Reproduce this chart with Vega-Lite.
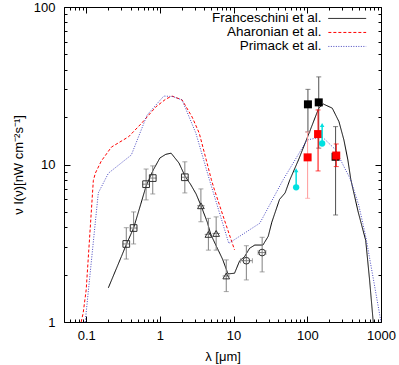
{
"$schema":"https://vega.github.io/schema/vega-lite/v6.json",
"width":317,"height":315,
"autosize":{"type":"none"},
"padding":{"left":64,"top":7,"right":18,"bottom":43},
"config":{
 "font":"Liberation Sans",
 "view":{"stroke":"#000000","strokeWidth":1},
 "axis":{"labelFont":"Liberation Sans","titleFont":"Liberation Sans","labelColor":"#000000","titleColor":"#000000","tickColor":"#000000","tickWidth":1,"grid":false},
 "legend":{"labelFont":"Liberation Sans","labelColor":"#000000"}
},
"datasets":{
 "model":[
  {"model":"Franceschini et al.","x":0.2,"y":1.65},{"model":"Franceschini et al.","x":0.3,"y":2.6},{"model":"Franceschini et al.","x":0.35,"y":3.1},{"model":"Franceschini et al.","x":0.44,"y":3.95},{"model":"Franceschini et al.","x":0.55,"y":5.6},{"model":"Franceschini et al.","x":0.65,"y":7.3},{"model":"Franceschini et al.","x":0.8,"y":9.1},{"model":"Franceschini et al.","x":1.0,"y":11.0},{"model":"Franceschini et al.","x":1.2,"y":11.6},{"model":"Franceschini et al.","x":1.42,"y":11.8},{"model":"Franceschini et al.","x":1.82,"y":10.2},{"model":"Franceschini et al.","x":2.2,"y":8.4},{"model":"Franceschini et al.","x":2.6,"y":7.5},{"model":"Franceschini et al.","x":3.1,"y":6.5},{"model":"Franceschini et al.","x":3.6,"y":5.5},{"model":"Franceschini et al.","x":4.4,"y":4.3},{"model":"Franceschini et al.","x":4.9,"y":3.6},{"model":"Franceschini et al.","x":6.1,"y":2.9},{"model":"Franceschini et al.","x":7.1,"y":2.5},{"model":"Franceschini et al.","x":8.4,"y":2.02},{"model":"Franceschini et al.","x":10.3,"y":2.04},{"model":"Franceschini et al.","x":12.1,"y":2.45},{"model":"Franceschini et al.","x":14.1,"y":2.6},{"model":"Franceschini et al.","x":16.5,"y":2.94},{"model":"Franceschini et al.","x":19.4,"y":3.08},{"model":"Franceschini et al.","x":25,"y":3.08},{"model":"Franceschini et al.","x":29.5,"y":3.5},{"model":"Franceschini et al.","x":33,"y":4.3},{"model":"Franceschini et al.","x":42,"y":6.0},{"model":"Franceschini et al.","x":50,"y":6.6},{"model":"Franceschini et al.","x":58,"y":8.0},{"model":"Franceschini et al.","x":76,"y":10.7},{"model":"Franceschini et al.","x":110,"y":16.6},{"model":"Franceschini et al.","x":143,"y":22.8},{"model":"Franceschini et al.","x":165,"y":24.2},{"model":"Franceschini et al.","x":218,"y":22.8},{"model":"Franceschini et al.","x":269,"y":18.7},{"model":"Franceschini et al.","x":314,"y":14.3},{"model":"Franceschini et al.","x":355,"y":10.7},{"model":"Franceschini et al.","x":390,"y":8.0},{"model":"Franceschini et al.","x":490,"y":5.0},{"model":"Franceschini et al.","x":620,"y":3.3},{"model":"Franceschini et al.","x":700,"y":1.85},{"model":"Franceschini et al.","x":800,"y":0.9},
  {"model":"Aharonian et al.","x":0.0855,"y":1.0},{"model":"Aharonian et al.","x":0.091,"y":1.14},{"model":"Aharonian et al.","x":0.1,"y":1.6},{"model":"Aharonian et al.","x":0.125,"y":7.9},{"model":"Aharonian et al.","x":0.133,"y":8.8},{"model":"Aharonian et al.","x":0.16,"y":10.5},{"model":"Aharonian et al.","x":0.22,"y":12.9},{"model":"Aharonian et al.","x":0.376,"y":15},{"model":"Aharonian et al.","x":0.566,"y":18.3},{"model":"Aharonian et al.","x":0.88,"y":23.2},{"model":"Aharonian et al.","x":1.2,"y":26},{"model":"Aharonian et al.","x":1.46,"y":27.2},{"model":"Aharonian et al.","x":2.0,"y":25.7},{"model":"Aharonian et al.","x":2.74,"y":20},{"model":"Aharonian et al.","x":3.42,"y":15.8},{"model":"Aharonian et al.","x":5.0,"y":8},{"model":"Aharonian et al.","x":5.5,"y":6.9},{"model":"Aharonian et al.","x":7.5,"y":4.45},{"model":"Aharonian et al.","x":10.3,"y":2.87},
  {"model":"Primack et al.","x":0.097,"y":1.0},{"model":"Primack et al.","x":0.146,"y":6.6},{"model":"Primack et al.","x":0.2,"y":8.8},{"model":"Primack et al.","x":0.41,"y":11.5},{"model":"Primack et al.","x":0.67,"y":20.6},{"model":"Primack et al.","x":1.13,"y":27.2},{"model":"Primack et al.","x":1.5,"y":27},{"model":"Primack et al.","x":2.0,"y":25.7},{"model":"Primack et al.","x":3.08,"y":15.8},{"model":"Primack et al.","x":4.7,"y":8},{"model":"Primack et al.","x":8.6,"y":3.16},{"model":"Primack et al.","x":22.7,"y":4.24},{"model":"Primack et al.","x":47,"y":8},{"model":"Primack et al.","x":99,"y":14.3},{"model":"Primack et al.","x":159,"y":15},{"model":"Primack et al.","x":242,"y":12.4},{"model":"Primack et al.","x":314,"y":9.7},{"model":"Primack et al.","x":388,"y":8},{"model":"Primack et al.","x":500,"y":5.5},{"model":"Primack et al.","x":620,"y":3.5},{"model":"Primack et al.","x":800,"y":1.8},{"model":"Primack et al.","x":1000,"y":1.0}
 ],
 "obs":[
  {"sample":"A","x":0.35,"y":3.13,"ylo":2.51,"yhi":3.97,"xlo":0.313,"xhi":0.392},
  {"sample":"A","x":0.44,"y":3.95,"ylo":3.13,"yhi":5.0,"xlo":0.393,"xhi":0.493},
  {"sample":"A","x":0.65,"y":7.5,"ylo":5.96,"yhi":9.36,"xlo":0.58,"xhi":0.728},
  {"sample":"A","x":0.8,"y":8.2,"ylo":6.5,"yhi":9.8,"xlo":0.714,"xhi":0.896},
  {"sample":"A","x":2.18,"y":8.3,"ylo":6.6,"yhi":10.4,"xlo":1.95,"xhi":2.44},
  {"sample":"B","x":3.6,"y":5.47,"ylo":4.33,"yhi":7.0,"xlo":3.21,"xhi":4.03},
  {"sample":"B","x":4.55,"y":3.6,"ylo":2.86,"yhi":4.55,"xlo":4.06,"xhi":5.1},
  {"sample":"B","x":5.8,"y":3.65,"ylo":2.86,"yhi":4.65,"xlo":5.18,"xhi":6.5},
  {"sample":"B","x":7.95,"y":1.96,"ylo":1.56,"yhi":2.48,"xlo":7.1,"xhi":8.9},
  {"sample":"C","x":14.9,"y":2.45,"ylo":1.85,"yhi":3.05,"xlo":12.4,"xhi":18.0},
  {"sample":"C","x":24.4,"y":2.76,"ylo":2.08,"yhi":3.45,"xlo":21.5,"xhi":27.4},
  {"sample":"D","x":102,"y":24.1,"ylo":16.1,"yhi":30,"xlo":102,"xhi":102},
  {"sample":"D","x":143,"y":24.8,"ylo":12.7,"yhi":36,"xlo":143,"xhi":143},
  {"sample":"D","x":242,"y":11.2,"ylo":4.78,"yhi":17.4,"xlo":242,"xhi":242},
  {"sample":"E","x":101,"y":11.1,"ylo":6.1,"yhi":16.1,"xlo":101,"xhi":101},
  {"sample":"E","x":140,"y":15.6,"ylo":9.1,"yhi":22.2,"xlo":140,"xhi":140},
  {"sample":"E","x":247,"y":11.4,"ylo":9.7,"yhi":13.5,"xlo":247,"xhi":247}
 ],
 "limits":[
  {"x":70.6,"y":7.16,"ytip":9.2},
  {"x":159,"y":13.6,"ytip":17.8}
 ]
},
"resolve":{"axis":{"x":"independent","y":"independent"}},
"layer":[
 {"data":{"name":"model"},"mark":{"type":"line","clip":true,"strokeWidth":1},
  "encoding":{
   "x":{"field":"x","type":"quantitative","scale":{"type":"log","domain":[0.05,1000]},
        "axis":{"orient":"bottom","values":[0.1,1,10,100,1000],"labelExpr":"'' + datum.value","ticks":false,"domain":false,"labelFontSize":13,"labelPadding":7,"labelFlush":false,"labelOverlap":false,"labelBound":false,"title":"λ [μm]","titleFontSize":13,"titleFontWeight":"normal","titlePadding":8}},
   "y":{"field":"y","type":"quantitative","scale":{"type":"log","domain":[1,100]},
        "axis":{"orient":"left","values":[1,10,100],"labelExpr":"'' + datum.value","ticks":false,"domain":false,"labelFontSize":13,"labelPadding":9,"labelFlush":false,"labelOverlap":false,"labelBound":false,"title":"ν I(ν)[nW cm⁻²s⁻¹]","titleFontSize":13,"titleFontWeight":"normal","titlePadding":8}},
   "color":{"field":"model","type":"nominal","scale":{"domain":["Franceschini et al.","Aharonian et al.","Primack et al."],"range":["#000000","#ff0000","#4848c0"]},
        "legend":{"orient":"none","legendX":136.5,"legendY":4.7,"title":null,"symbolType":"M-4.2,0H4.2","symbolSize":81,"symbolStrokeWidth":1,"symbolOffset":140,"labelOffset":-32.5,"labelAlign":"right","labelFontSize":13.5,"rowPadding":-2.2,"padding":0}},
   "strokeDash":{"field":"model","type":"nominal","scale":{"domain":["Franceschini et al.","Aharonian et al.","Primack et al."],"range":[[1,0],[3,2],[1,1.5]]},
        "legend":{"orient":"none","legendX":136.5,"legendY":4.7,"title":null,"symbolType":"M-4.2,0H4.2","symbolSize":81,"symbolStrokeWidth":1,"symbolOffset":140,"labelOffset":-32.5,"labelAlign":"right","labelFontSize":13.5,"rowPadding":-2.2,"padding":0}}
  }},
 {"data":{"name":"obs"},"transform":[{"filter":"datum.sample=='A'||datum.sample=='B'||datum.sample=='C'"}],
  "mark":{"type":"rule","color":"#808080","strokeWidth":1},
  "encoding":{
   "x":{"field":"x","type":"quantitative","scale":{"type":"log","domain":[0.05,1000]},
        "axis":{"orient":"bottom","values":[0.05,0.06,0.07,0.08,0.09,0.2,0.3,0.4,0.5,0.6,0.7,0.8,0.9,2,3,4,5,6,7,8,9,20,30,40,50,60,70,80,90,200,300,400,500,600,700,800,900],"tickSize":-3,"labels":false,"domain":false,"title":null}},
   "y":{"field":"ylo","type":"quantitative","scale":{"type":"log","domain":[1,100]},
        "axis":{"orient":"left","values":[2,3,4,5,6,7,8,9,20,30,40,50,60,70,80,90],"tickSize":-3,"labels":false,"domain":false,"title":null}},
   "y2":{"field":"yhi"}
  }},
 {"data":{"name":"obs"},"transform":[{"filter":"datum.sample=='A'||datum.sample=='B'||datum.sample=='C'"}],
  "mark":{"type":"tick","orient":"horizontal","size":5,"thickness":1,"color":"#808080"},
  "encoding":{
   "x":{"field":"x","type":"quantitative","scale":{"type":"log","domain":[0.05,1000]},
        "axis":{"orient":"bottom","values":[0.1,1,10,100,1000],"tickSize":-6,"labels":false,"domain":false,"title":null}},
   "y":{"field":"ylo","type":"quantitative","scale":{"type":"log","domain":[1,100]},
        "axis":{"orient":"left","values":[1,10,100],"tickSize":-6,"labels":false,"domain":false,"title":null}}
  }},
 {"data":{"name":"obs"},"transform":[{"filter":"datum.sample=='A'||datum.sample=='B'||datum.sample=='C'"}],
  "mark":{"type":"tick","orient":"horizontal","size":5,"thickness":1,"color":"#808080"},
  "encoding":{
   "x":{"field":"x","type":"quantitative","scale":{"type":"log","domain":[0.05,1000]},
        "axis":{"orient":"top","values":[0.05,0.06,0.07,0.08,0.09,0.2,0.3,0.4,0.5,0.6,0.7,0.8,0.9,2,3,4,5,6,7,8,9,20,30,40,50,60,70,80,90,200,300,400,500,600,700,800,900],"tickSize":-3,"labels":false,"domain":false,"title":null}},
   "y":{"field":"yhi","type":"quantitative","scale":{"type":"log","domain":[1,100]},
        "axis":{"orient":"right","values":[2,3,4,5,6,7,8,9,20,30,40,50,60,70,80,90],"tickSize":-3,"labels":false,"domain":false,"title":null}}
  }},
 {"data":{"name":"obs"},"transform":[{"filter":"datum.sample=='A'||datum.sample=='B'||datum.sample=='C'"}],
  "mark":{"type":"rule","color":"#808080","strokeWidth":1},
  "encoding":{
   "x":{"field":"xlo","type":"quantitative","scale":{"type":"log","domain":[0.05,1000]},
        "axis":{"orient":"top","values":[0.1,1,10,100,1000],"tickSize":-6,"labels":false,"domain":false,"title":null}},
   "x2":{"field":"xhi"},
   "y":{"field":"y","type":"quantitative","scale":{"type":"log","domain":[1,100]},
        "axis":{"orient":"right","values":[1,10,100],"tickSize":-6,"labels":false,"domain":false,"title":null}}
  }},
 {"data":{"name":"obs"},"transform":[{"filter":"datum.sample=='C'"},{"fold":["xlo","xhi"],"as":["end","xend"]}],
  "mark":{"type":"tick","orient":"vertical","size":5,"thickness":1,"color":"#808080"},
  "encoding":{
   "x":{"field":"xend","type":"quantitative","scale":{"type":"log","domain":[0.05,1000]},"axis":null},
   "y":{"field":"y","type":"quantitative","scale":{"type":"log","domain":[1,100]},"axis":null}
  }},
 {"data":{"name":"obs"},"transform":[{"filter":"datum.sample=='A'||datum.sample=='B'||datum.sample=='C'"}],
  "mark":{"type":"point","filled":false,"color":"#303030","strokeWidth":1,"size":45,"opacity":1},
  "encoding":{
   "x":{"field":"x","type":"quantitative","scale":{"type":"log","domain":[0.05,1000]},"axis":null},
   "y":{"field":"y","type":"quantitative","scale":{"type":"log","domain":[1,100]},"axis":null},
   "shape":{"field":"sample","type":"nominal","scale":{"domain":["A","B","C"],"range":["square","triangle-up","circle"]},"legend":null}
  }},
 {"data":{"name":"obs"},"transform":[{"filter":"datum.sample=='D'"}],
  "mark":{"type":"rule","color":"#505050","strokeWidth":1},
  "encoding":{
   "x":{"field":"x","type":"quantitative","scale":{"type":"log","domain":[0.05,1000]},"axis":null},
   "y":{"field":"ylo","type":"quantitative","scale":{"type":"log","domain":[1,100]},"axis":null},
   "y2":{"field":"yhi"}
  }},
 {"data":{"name":"obs"},"transform":[{"filter":"datum.sample=='D'"},{"fold":["ylo","yhi"],"as":["end","yend"]}],
  "mark":{"type":"tick","orient":"horizontal","size":5,"thickness":1,"color":"#505050"},
  "encoding":{
   "x":{"field":"x","type":"quantitative","scale":{"type":"log","domain":[0.05,1000]},"axis":null},
   "y":{"field":"yend","type":"quantitative","scale":{"type":"log","domain":[1,100]},"axis":null}
  }},
 {"data":{"name":"obs"},"transform":[{"filter":"datum.sample=='D'"}],
  "mark":{"type":"square","filled":true,"color":"#000000","size":64,"opacity":1},
  "encoding":{
   "x":{"field":"x","type":"quantitative","scale":{"type":"log","domain":[0.05,1000]},"axis":null},
   "y":{"field":"y","type":"quantitative","scale":{"type":"log","domain":[1,100]},"axis":null}
  }},
 {"data":{"name":"obs"},"transform":[{"filter":"datum.sample=='E'"}],
  "mark":{"type":"rule","strokeWidth":1},
  "encoding":{
   "x":{"field":"x","type":"quantitative","scale":{"type":"log","domain":[0.05,1000]},"axis":null},
   "y":{"field":"ylo","type":"quantitative","scale":{"type":"log","domain":[1,100]},"axis":null},
   "y2":{"field":"yhi"},
   "color":{"condition":{"test":"datum.x < 120","value":"#ff9a9a"},"value":"#ff0000"}
  }},
 {"data":{"name":"obs"},"transform":[{"filter":"datum.sample=='E'"},{"fold":["ylo","yhi"],"as":["end","yend"]}],
  "mark":{"type":"tick","orient":"horizontal","size":5,"thickness":1},
  "encoding":{
   "x":{"field":"x","type":"quantitative","scale":{"type":"log","domain":[0.05,1000]},"axis":null},
   "y":{"field":"yend","type":"quantitative","scale":{"type":"log","domain":[1,100]},"axis":null},
   "color":{"condition":{"test":"datum.x < 120","value":"#ff9a9a"},"value":"#ff0000"}
  }},
 {"data":{"name":"obs"},"transform":[{"filter":"datum.sample=='E'"}],
  "mark":{"type":"square","filled":true,"color":"#ff0000","size":64,"opacity":1},
  "encoding":{
   "x":{"field":"x","type":"quantitative","scale":{"type":"log","domain":[0.05,1000]},"axis":null},
   "y":{"field":"y","type":"quantitative","scale":{"type":"log","domain":[1,100]},"axis":null}
  }},
 {"data":{"name":"limits"},
  "mark":{"type":"rule","color":"#00e0e0","strokeWidth":1.5},
  "encoding":{
   "x":{"field":"x","type":"quantitative","scale":{"type":"log","domain":[0.05,1000]},"axis":null},
   "y":{"field":"y","type":"quantitative","scale":{"type":"log","domain":[1,100]},"axis":null},
   "y2":{"field":"ytip"}
  }},
 {"data":{"name":"limits"},
  "mark":{"type":"point","shape":"triangle-up","filled":true,"color":"#00e0e0","size":20,"opacity":1},
  "encoding":{
   "x":{"field":"x","type":"quantitative","scale":{"type":"log","domain":[0.05,1000]},"axis":null},
   "y":{"field":"ytip","type":"quantitative","scale":{"type":"log","domain":[1,100]},"axis":null}
  }},
 {"data":{"name":"limits"},
  "mark":{"type":"circle","color":"#00e0e0","size":40,"opacity":1},
  "encoding":{
   "x":{"field":"x","type":"quantitative","scale":{"type":"log","domain":[0.05,1000]},"axis":null},
   "y":{"field":"y","type":"quantitative","scale":{"type":"log","domain":[1,100]},"axis":null}
  }}
]
}
